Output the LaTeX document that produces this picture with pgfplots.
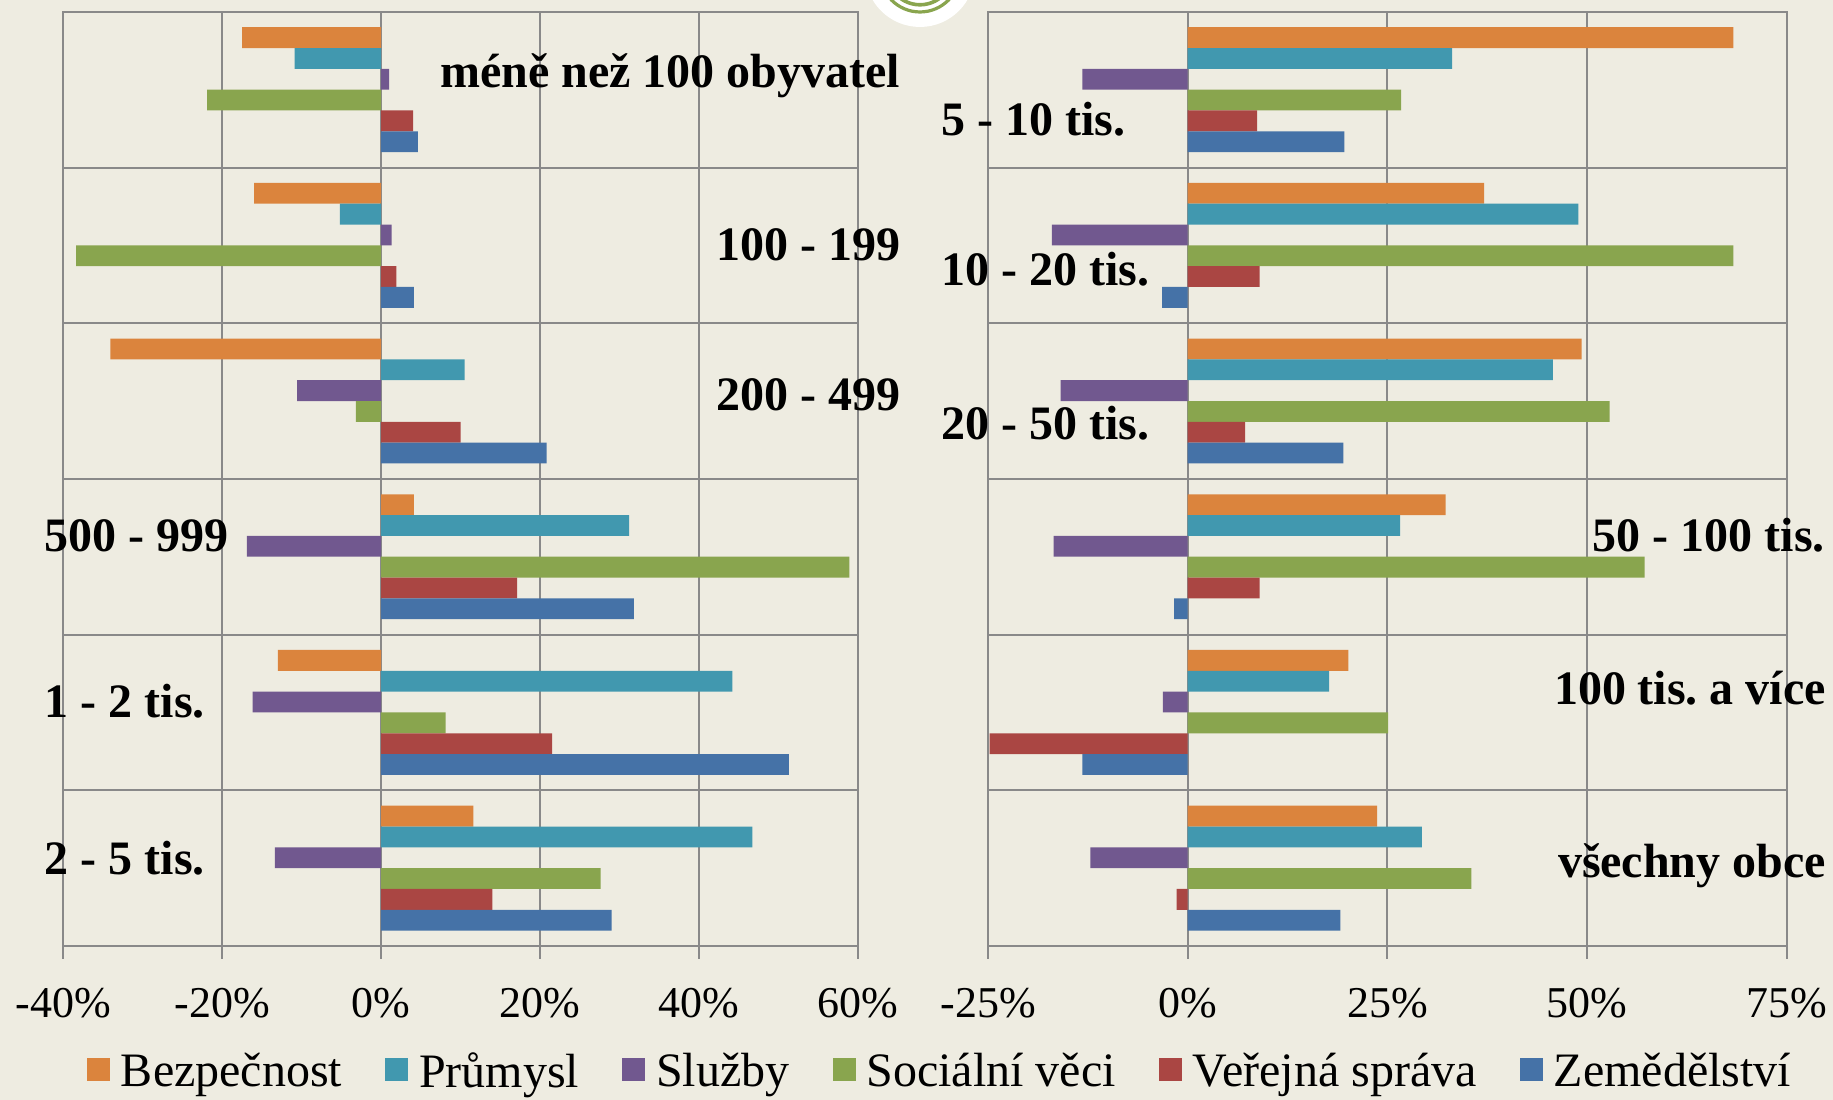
\documentclass[border=0pt]{standalone}
\usepackage{pgfplots}
\pgfplotsset{compat=1.18}
\usepackage{pgfplotstable}
\usepackage{fontspec}
\setmainfont{Liberation Serif}
\frenchspacing

\definecolor{bg}{RGB}{238,236,225}
\definecolor{cB}{RGB}{219,132,61}
\definecolor{cP}{RGB}{65,152,175}
\definecolor{cS}{RGB}{113,88,143}
\definecolor{cC}{RGB}{137,165,78}
\definecolor{cV}{RGB}{170,70,67}
\definecolor{cZ}{RGB}{69,114,167}
\definecolor{gridc}{RGB}{137,137,137}

% y: 5 = top row ... 0 = bottom row
\pgfplotstableread{
y  b      p      s      c      v      z
5  -17.5  -10.9   1.0  -21.9   4.0   4.6
4  -16.0   -5.2   1.3  -38.4   1.9   4.1
3  -34.1   10.5 -10.6   -3.2  10.0  20.8
2    4.1   31.2 -16.9   58.9  17.1  31.8
1  -13.0   44.2 -16.2    8.1  21.5  51.3
0   11.6   46.7 -13.4   27.6  14.0  29.0
}\tabL

\pgfplotstableread{
y  b      p      s      c      v      z
5  68.3   33.1  -13.2   26.7    8.7  19.6
4  37.1   48.9  -17.0   68.3    9.0  -3.2
3  49.3   45.7  -15.9   52.8    7.2  19.5
2  32.3   26.6  -16.8   57.2    9.0  -1.7
1  20.1   17.7   -3.1   25.1  -24.8 -13.2
0  23.7   29.3  -12.2   35.5   -1.4  19.1
}\tabR

\tikzset{lab/.style={font=\bfseries\fontsize{12}{14}\selectfont, inner sep=0pt}}

\pgfplotsset{
  panel/.style={
    scale only axis,
    height=233.55pt,
    xbar,
    bar width=0.1337,
    ymin=-0.5, ymax=5.5,
    ytick={-0.5,0.5,1.5,2.5,3.5,4.5,5.5},
    yticklabels={},
    ytick style={draw=none},
    xmajorgrids, ymajorgrids,
    grid style={gridc, line width=0.5pt},
    axis line style={gridc, line width=0.5pt},
    xtick pos=bottom,
    xtick align=outside,
    major tick length=3.25pt,
    xtick style={gridc, line width=0.5pt},
    xticklabel style={font=\fontsize{11}{13}\selectfont, anchor=base, inner sep=0pt, yshift=-14.75pt},
    clip=false,
  },
}

\begin{document}
\begin{tikzpicture}
\path[use as bounding box, fill=bg] (0,0) rectangle (458.25pt,275pt);
\fill[white] (230pt,282pt) circle (13.75pt);
\draw[cC, line width=0.8pt] (230pt,282pt) circle (10pt);
\draw[cC, line width=0.9pt] (230pt,282pt) circle (8.2pt);

\begin{axis}[panel,
  at={(15.85pt,38.5pt)}, anchor=south west, width=198.65pt,
  xmin=-40, xmax=60,
  xtick={-40,-20,0,20,40,60},
  xticklabels={-40\%,-20\%,0\%,20\%,40\%,60\%},
  legend columns=6,
  legend image code/.code={\fill[#1] (0pt,-2pt) rectangle (5.75pt,3.75pt);},
  legend style={draw=none, fill=none, inner sep=0pt, outer sep=0pt,
    at={(0.0297,-0.1357)}, anchor=west,
    font=\fontsize{12}{14}\selectfont,
    nodes={inner sep=0pt},
    /tikz/every odd column/.append style={column sep=2.75pt},
    /tikz/every even column/.append style={column sep=10.75pt}},
]
\addplot[fill=cB, draw=none, bar shift=0.33425] table[x=b, y=y] {\tabL};
\addplot[fill=cP, draw=none, bar shift=0.20055] table[x=p, y=y] {\tabL};
\addplot[fill=cS, draw=none, bar shift=0.06685] table[x=s, y=y] {\tabL};
\addplot[fill=cC, draw=none, bar shift=-0.06685] table[x=c, y=y] {\tabL};
\addplot[fill=cV, draw=none, bar shift=-0.20055] table[x=v, y=y] {\tabL};
\addplot[fill=cZ, draw=none, bar shift=-0.33425] table[x=z, y=y] {\tabL};
\legend{Bezpečnost, Průmysl, Služby, Sociální věci, Veřejná správa, Zemědělství}
\node[lab, anchor=base east] at (axis cs:65.4,5.014) {méně než 100 obyvatel};
\node[lab, anchor=base east] at (axis cs:65.4,3.901) {100 - 199};
\node[lab, anchor=base east] at (axis cs:65.4,2.938) {200 - 499};
\node[lab, anchor=base west] at (axis cs:-42.44,2.032) {500 - 999};
\node[lab, anchor=base west] at (axis cs:-42.44,0.968) {1 - 2 tis.};
\node[lab, anchor=base west] at (axis cs:-42.44,-0.038) {2 - 5 tis.};
\end{axis}

\begin{axis}[panel,
  at={(247.0pt,38.5pt)}, anchor=south west, width=199.7pt,
  xmin=-25, xmax=75,
  xtick={-25,0,25,50,75},
  xticklabels={-25\%,0\%,25\%,50\%,75\%},
]
\addplot[fill=cB, draw=none, bar shift=0.33425] table[x=b, y=y] {\tabR};
\addplot[fill=cP, draw=none, bar shift=0.20055] table[x=p, y=y] {\tabR};
\addplot[fill=cS, draw=none, bar shift=0.06685] table[x=s, y=y] {\tabR};
\addplot[fill=cC, draw=none, bar shift=-0.06685] table[x=c, y=y] {\tabR};
\addplot[fill=cV, draw=none, bar shift=-0.20055] table[x=v, y=y] {\tabR};
\addplot[fill=cZ, draw=none, bar shift=-0.33425] table[x=z, y=y] {\tabR};
\node[lab, anchor=base west] at (axis cs:-30.95,4.704) {5 - 10 tis.};
\node[lab, anchor=base west] at (axis cs:-30.95,3.741) {10 - 20 tis.};
\node[lab, anchor=base west] at (axis cs:-30.95,2.754) {20 - 50 tis.};
\node[lab, anchor=base east] at (axis cs:79.86,2.032) {50 - 100 tis.};
\node[lab, anchor=base east] at (axis cs:80.0,1.052) {100 tis. a více};
\node[lab, anchor=base east] at (axis cs:80.0,-0.06) {všechny obce};
\end{axis}
\end{tikzpicture}
\end{document}
